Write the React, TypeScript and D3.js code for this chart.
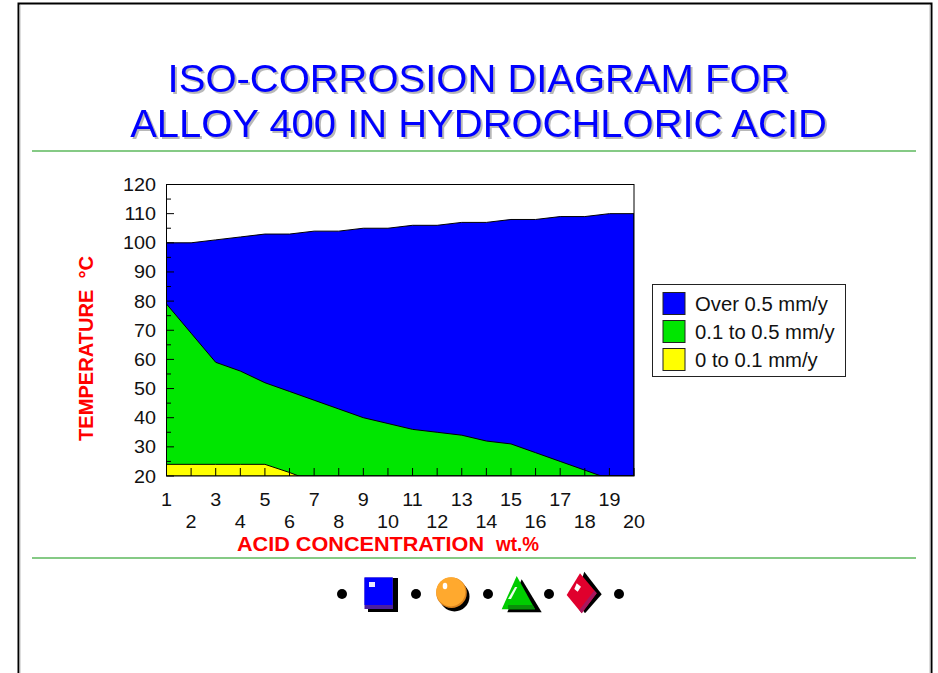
import React from 'react';
import * as d3 from 'd3';

const concentration = d3.range(1, 21);
const yTicks = d3.range(20, 121, 10);
const over05Top = [100, 100, 101, 102, 103, 103, 104, 104, 105, 105, 106, 106, 107, 107, 108, 108, 109, 109, 110, 110];
const mid01Top = [79, 69, 59, 56, 52, 49, 46, 43, 40, 38, 36, 35, 34, 32, 31, 28, 25, 22, 19, 19];
const low0Top = [24, 24, 24, 24, 24, 21.2, 18, 18, 18, 18, 18, 18, 18, 18, 18, 18, 18, 18, 18, 18];
const legendNames = ['Over 0.5 mm/y', '0.1 to 0.5 mm/y', '0 to 0.1 mm/y'];
const colors = ['#0000ff', '#00e600', '#ffff00'];
const titleLines = ['ISO-CORROSION DIAGRAM FOR', 'ALLOY 400 IN HYDROCHLORIC ACID'];
const sans = '"Liberation Sans", Arial, sans-serif';

const Wide = ({ x, y, sx = 1.04, anchor = 'start', size = 19, children, ...rest }: any) => (
  <text transform={`translate(${x},${y}) scale(${sx},1)`} textAnchor={anchor} fontSize={size} {...rest}>{children}</text>
);

export default function App() {
  const x = d3.scaleLinear().domain([1, 20]).range([166.5, 634]);
  const y = d3.scaleLinear().domain([20, 120]).range([476, 184.5]);
  const area = d3.area<number>().x((_, i) => x(concentration[i])).y0(y(20)).y1(d => y(d));
  const series = [over05Top, mid01Top, low0Top];
  const minorY = yTicks.slice(0, -1).map(v => v + 5);
  return (
    <svg width={938} height={673} style={{ position: 'absolute', left: 0, top: 0, background: '#fff' }} fontFamily={sans}>
      <path d="M18.5 673V3.5H931.5V673" fill="none" stroke="#000" strokeWidth={2} />
      <line x1={20} x2={20} y1={5} y2={673} stroke="#bbb" />
      <line x1={930} x2={930} y1={5} y2={673} stroke="#bbb" />
      <defs>
        <clipPath id="pl"><rect x={166.5} y={184.5} width={467.5} height={291.5} /></clipPath>
      </defs>
      <g style={{ filter: 'drop-shadow(2px 2px 0.5px #b8b8b8)' }} fill="#0000ff">
        {titleLines.map((t, i) => (
          <Wide key={t} x={478.5} y={92 + i * 45} sx={1.025} size={39} anchor="middle">{t}</Wide>
        ))}
      </g>
      <line x1={32} x2={916} y1={151} y2={151} stroke="#5cb85c" strokeWidth={1.5} />
      <line x1={32} x2={916} y1={558} y2={558} stroke="#5cb85c" strokeWidth={1.5} />

      <g clipPath="url(#pl)">
        {series.map((s, i) => (
          <path key={i} d={area(s) ?? ''} fill={colors[i]} stroke="#000" strokeWidth={1} />
        ))}
      </g>
      <rect x={166.5} y={184.5} width={467.5} height={291.5} fill="none" stroke="#000" />
      {yTicks.map(v => (
        <g key={v}>
          <line x1={166.5} x2={174} y1={y(v)} y2={y(v)} stroke="#000" />
          <Wide x={156} y={y(v) + 6.5} anchor="end" fill="#111">{v}</Wide>
        </g>
      ))}
      {minorY.map(v => (
        <line key={v} x1={166.5} x2={171} y1={y(v)} y2={y(v)} stroke="#000" />
      ))}
      {concentration.map((c, i) => (
        <g key={c}>
          <line x1={x(c)} x2={x(c)} y1={476} y2={468} stroke="#000" />
          <Wide x={x(c)} y={i % 2 === 0 ? 506 : 528} anchor="middle" fill="#111">{c}</Wide>
        </g>
      ))}
      <text x={237} y={551} fontSize={19.5} fontWeight={700} fill="#ff0000" textLength={247} lengthAdjust="spacingAndGlyphs">ACID CONCENTRATION</text>
      <text x={496} y={551} fontSize={19.5} fontWeight={700} fill="#ff0000" textLength={43} lengthAdjust="spacingAndGlyphs">wt.%</text>
      <text transform="translate(93,441) rotate(-90)" fontSize={21} fontWeight={700} fill="#ff0000" textLength={185} lengthAdjust="spacingAndGlyphs" style={{ whiteSpace: 'pre' }}>TEMPERATURE  °C</text>

      <rect x={652.5} y={284.5} width={193} height={92} fill="#fff" stroke="#222" />
      {legendNames.map((n, i) => (
        <g key={n}>
          <rect x={663} y={292.5 + i * 28} width={22} height={22} fill={colors[i]} stroke="#222" />
          <Wide x={695} y={311 + i * 28} size={19.5} fill="#111">{n}</Wide>
        </g>
      ))}

      {[342, 416, 488, 549, 619].map(cx => <circle key={cx} cx={cx} cy={594} r={5} fill="#000" />)}

      <rect x={368} y={578} width={30} height={34} fill="#000" />
      <rect x={364.5} y={577.5} width={28.5} height={31.5} fill="#4b1fa0" />
      <rect x={364.5} y={577.5} width={28} height={27.5} fill="#0000ff" />
      <rect x={369} y={582} width={6} height={5} fill="#e8e8ff" />

      <circle cx={454.5} cy={596.5} r={15} fill="#000" />
      <circle cx={451.5} cy={592.7} r={15.3} fill="#d9821e" />
      <circle cx={450.8} cy={591.8} r={14.6} fill="#ffa92e" />
      <ellipse cx={445} cy={586} rx={2.3} ry={3.2} fill="#fff" />

      <path d="M521.7 579.3L541.7 612.3H507.3Z" fill="#000" />
      <path d="M516.7 576L535 609.3H501.7Z" fill="#00cc00" />
      <path d="M508 605H532.8L535 609.3H508Z" fill="#0a8f0a" />
      <path d="M515 587L517.3 587L511 599L508 599Z" fill="#e8ffe8" />

      <path d="M584.3 571.7L601.7 594.3L585 613.3L575 600Z" fill="#000" />
      <path d="M580 573.3L596.7 593.3L581.7 613.3L566.7 595Z" fill="#e0002d" />
      <path d="M596.7 593.3L581.7 613.3L579.3 610L594.3 590.5Z" fill="#a8175f" />
      <path d="M576.7 583.3L581 586.7L577.7 591.7L574.3 589Z" fill="#fff" />
    </svg>
  );
}
